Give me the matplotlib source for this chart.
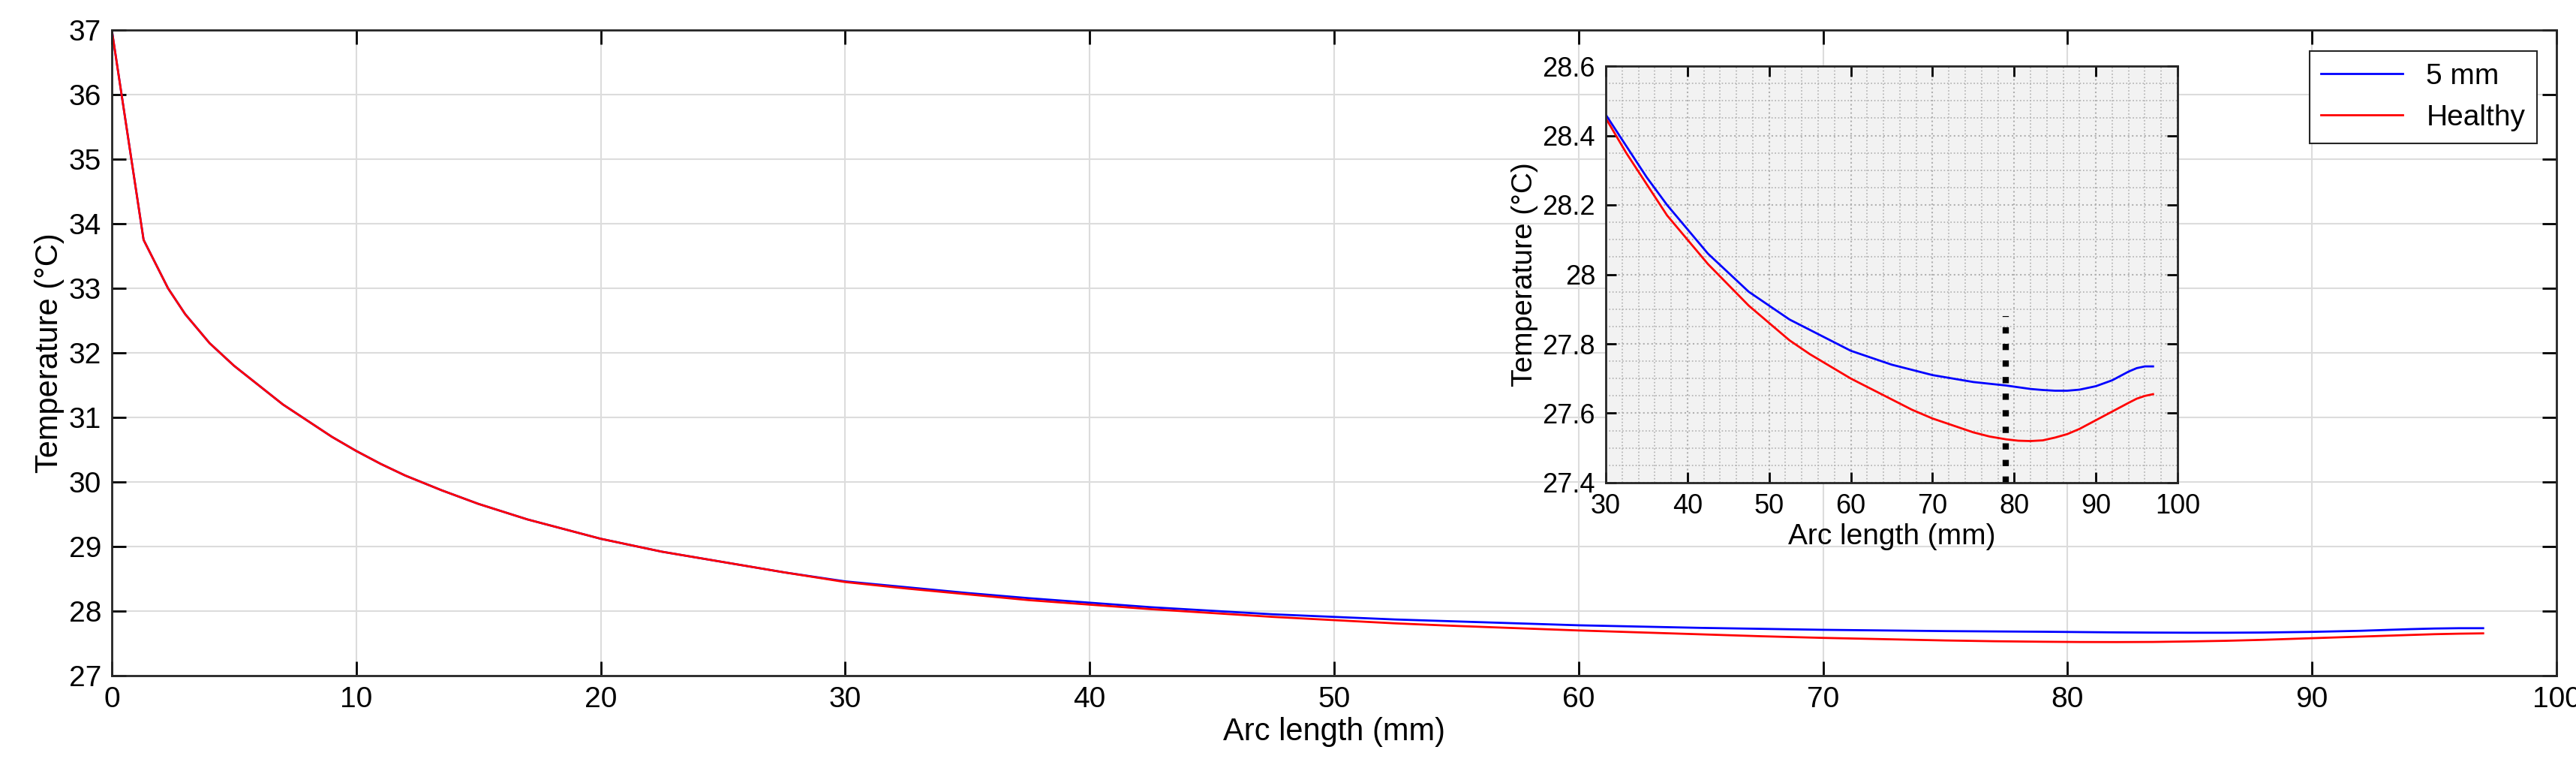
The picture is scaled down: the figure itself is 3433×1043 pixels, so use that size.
import matplotlib
matplotlib.use("Agg")
import matplotlib.pyplot as plt
from matplotlib.ticker import AutoMinorLocator

plt.rcParams['font.family'] = ['Liberation Sans', 'DejaVu Sans']

x_h = [0, 1.3, 2.3, 3, 4, 5, 6, 7, 8, 9, 10, 11, 12, 13.5, 15, 17, 20, 22.5, 25, 27.5, 30, 32.5, 35, 37.5, 40, 42.5, 45, 47.5, 50, 52.5, 55, 57.5, 60, 62.5, 65, 67.5, 70, 72.5, 75, 77, 79, 80.5, 82, 83.5, 85, 86.5, 88, 90, 92, 94, 95, 96, 97]
t_healthy = [37, 33.75, 33.0, 32.6, 32.15, 31.8, 31.5, 31.2, 30.95, 30.7, 30.48, 30.28, 30.1, 29.87, 29.66, 29.42, 29.12, 28.92, 28.76, 28.6, 28.45, 28.35, 28.26, 28.17, 28.1, 28.03, 27.97, 27.91, 27.86, 27.81, 27.77, 27.735, 27.7, 27.67, 27.64, 27.61, 27.585, 27.565, 27.545, 27.533, 27.525, 27.521, 27.52, 27.522, 27.53, 27.54, 27.555, 27.58, 27.605, 27.63, 27.642, 27.65, 27.655]
t_5mm = [37, 33.75, 33.0, 32.6, 32.15, 31.8, 31.5, 31.2, 30.95, 30.7, 30.48, 30.28, 30.1, 29.87, 29.66, 29.42, 29.12, 28.92, 28.76, 28.6, 28.46, 28.37, 28.28, 28.2, 28.13, 28.06, 28.005, 27.95, 27.91, 27.87, 27.84, 27.81, 27.78, 27.76, 27.74, 27.725, 27.71, 27.7, 27.69, 27.685, 27.68, 27.675, 27.67, 27.667, 27.665, 27.665, 27.668, 27.678, 27.695, 27.72, 27.73, 27.735, 27.735]
marker_x = 79
marker_y = [27.4, 27.88]

fig = plt.figure(figsize=(34.33, 10.43), dpi=100)
ax = fig.add_axes([149/3433, 1 - 900/1043, (3407 - 149)/3433, (900 - 40)/1043])
ax.plot(x_h, t_5mm, color='blue', lw=2, label='5 mm')
ax.plot(x_h, t_healthy, color='red', lw=2, label='Healthy')
ax.set_xlim(0, 100); ax.set_ylim(27, 37)
ax.set_xticks(range(0, 101, 10)); ax.set_yticks(range(27, 38))
ax.grid(True, color='#dcdcdc', lw=1.5)
ax.tick_params(labelsize=28, direction='in', length=14, width=2, top=True, right=True, pad=10)
for s in ax.spines.values():
    s.set_linewidth(2); s.set_color('#262626')
ax.set_xlabel('Arc length (mm)', fontsize=30)
ax.set_ylabel('Temperature (°C)', fontsize=30)
leg = ax.legend(loc='upper right', fontsize=28, fancybox=False, edgecolor='#262626',
                framealpha=1, handlelength=2.8, bbox_to_anchor=(0.998, 0.99))
leg.get_frame().set_linewidth(1.5)

ins = fig.add_axes([2140/3433, 1 - 643/1043, (2902 - 2140)/3433, (643 - 88)/1043])
ins.set_facecolor('#f2f2f2')
ins.plot(x_h, t_5mm, color='blue', lw=2)
ins.plot(x_h, t_healthy, color='red', lw=2)
ins.plot([marker_x, marker_x], marker_y, color='black', ls=':', lw=6)
ins.set_xlim(30, 100); ins.set_ylim(27.4, 28.6)
ins.set_xticks(range(30, 101, 10))
ins.set_yticks([27.4, 27.6, 27.8, 28.0, 28.2, 28.4, 28.6])
ins.set_yticklabels(['27.4', '27.6', '27.8', '28', '28.2', '28.4', '28.6'])
ins.xaxis.set_minor_locator(AutoMinorLocator(5))
ins.yaxis.set_minor_locator(AutoMinorLocator(4))
ins.grid(True, which='major', color='#b0b0b0', ls=':', lw=1.5)
ins.grid(True, which='minor', color='#b0b0b0', ls=':', lw=1.2)
ins.tick_params(which='major', labelsize=26, direction='in', length=10, width=2, top=True, right=True, pad=10)
ins.tick_params(which='minor', length=0)
for s in ins.spines.values():
    s.set_linewidth(2); s.set_color('#262626')
ins.set_xlabel('Arc length (mm)', fontsize=28)
ins.set_ylabel('Temperature (°C)', fontsize=28)

fig.savefig('out.png', dpi=100, facecolor='white')
